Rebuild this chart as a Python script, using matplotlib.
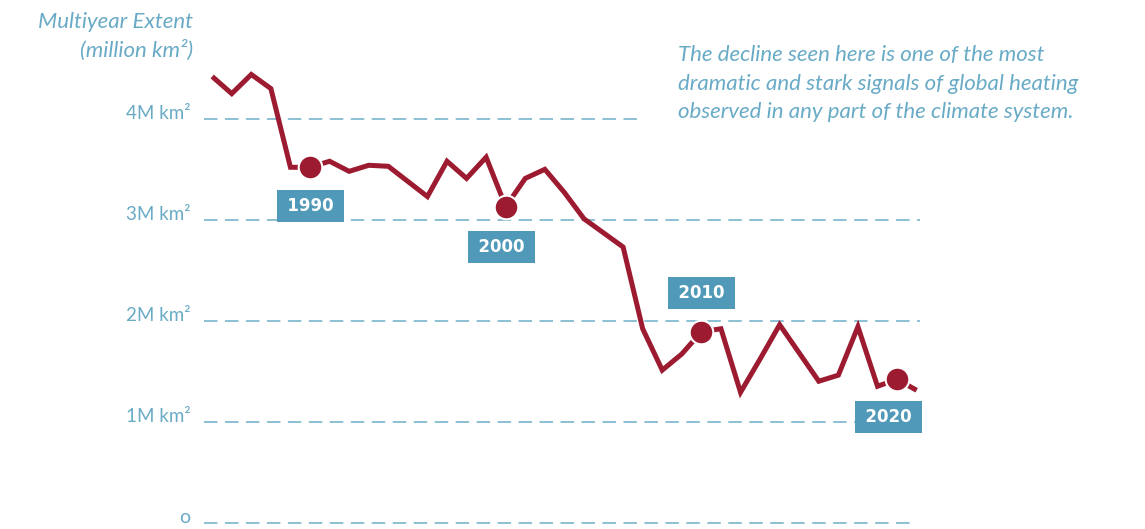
import matplotlib
matplotlib.use("Agg")
import matplotlib.pyplot as plt

plt.rcParams['lines.scale_dashes'] = False
plt.rcParams['font.family'] = ['Lato', 'DejaVu Sans']

# ---- data ----
years = list(range(1985, 2022))
extent = [4.42, 4.25, 4.44, 4.30, 3.52, 3.52, 3.58, 3.48, 3.54, 3.53,
          3.38, 3.23, 3.58, 3.41, 3.62, 3.13, 3.41, 3.50, 3.27, 3.01,
          2.87, 2.73, 1.92, 1.51, 1.67, 1.89, 1.92, 1.29, 1.62, 1.96,
          1.68, 1.40, 1.46, 1.94, 1.35, 1.42, 1.31]
highlight_years = [1990, 2000, 2010, 2020]
tick_values = [0, 1, 2, 3, 4]
tick_labels = ["o", "1M km²", "2M km²", "3M km²", "4M km²"]
title_lines = ["Multiyear Extent", "(million km²)"]
note_lines = ["The decline seen here is one of the most",
              "dramatic and stark signals of global heating",
              "observed in any part of the climate system."]

RED = "#9c1b31"
BLUE_BOX = "#5099b8"
BLUE_TXT = "#69abc6"
GRID = "#8cc0d4"

W, H = 1145, 529
fig = plt.figure(figsize=(W / 100, H / 100), dpi=100)
ax = fig.add_axes([0, 0, 1, 1])
ax.set_xlim(1974.157, 2032.67)
ax.set_ylim(-0.0644, 5.178)
ax.axis('off')

# grid lines (extent ends in years, styling only)
grid_end = {0: 2020.66, 1: 2021.17, 2: 2021.17, 3: 2021.17, 4: 2006.97}
grid_start = 1984.58
for v, lab in zip(tick_values, tick_labels):
    ax.plot([grid_start, grid_end[v]], [v, v], color=GRID, lw=1.4,
            linestyle=(0, (9.7, 5.4)), zorder=1, dash_capstyle='butt')
    ax.text(1983.88, v, lab, ha='right', va='baseline',
            fontsize=13.5 if v else 14, color=BLUE_TXT)

# main line
ax.plot(years, extent, color=RED, lw=3.6, solid_joinstyle='miter',
        solid_capstyle='butt', zorder=3)

# highlighted points + labels
offsets = {1990: -28, 2000: -29, 2010: 28, 2020: -27}
xoffs = {1990: 0, 2000: -3, 2010: 0, 2020: -6}
TS = "\u2009"
for yr in highlight_years:
    v = extent[years.index(yr)]
    ax.plot([yr], [v], 'o', ms=17, color=RED, mec='white', mew=1.5, zorder=4)
    ax.annotate(f"{TS}{yr}{TS}", xy=(yr, v), xytext=(xoffs[yr], offsets[yr]),
                textcoords='offset points', ha='center', va='center',
                fontsize=12, fontweight='bold', color='white',
                family='DejaVu Sans',
                bbox=dict(boxstyle='square,pad=0.42', fc=BLUE_BOX, ec='none'),
                zorder=5)

# title (top-left)
fig.text(193 / W, 1 - 28 / H, title_lines[0], ha='right', va='baseline',
         fontsize=16, style='italic', color=BLUE_TXT)
fig.text(193 / W, 1 - 57 / H, title_lines[1], ha='right', va='baseline',
         fontsize=16, style='italic', color=BLUE_TXT)

# note (top-right)
for i, line in enumerate(note_lines):
    fig.text(678 / W, 1 - (61 + 28.5 * i) / H, line, ha='left', va='baseline',
             fontsize=16, style='italic', color=BLUE_TXT)

fig.savefig("out.png", dpi=100, facecolor='white')
